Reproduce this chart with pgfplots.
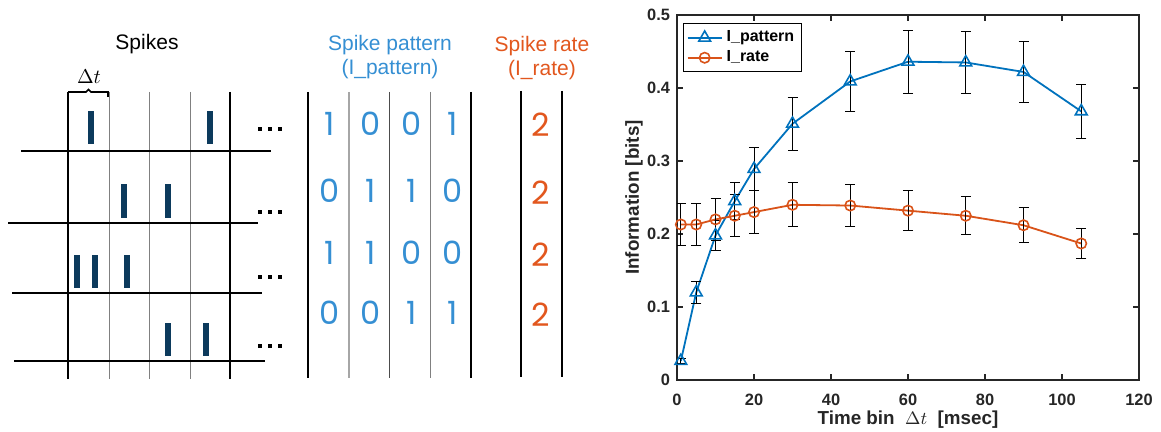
\documentclass[border=0pt]{standalone}
\usepackage{pgfplots}
\pgfplotsset{compat=1.18}
\usepackage{fontspec}
\setmainfont{Liberation Sans}
\newfontfamily\popfont{Poppins}
\definecolor{mblue}{HTML}{0072BD}
\definecolor{morange}{HTML}{D95319}
\definecolor{tblue}{HTML}{358FD3}
\definecolor{torange}{HTML}{E2571E}
\definecolor{spikecol}{HTML}{0C3A5C}
\definecolor{axgray}{HTML}{262626}

\begin{document}
\begin{tikzpicture}
\path[use as bounding box] (0,0) rectangle (580.5pt,-216pt);

% left: spike raster and the two codes, in pixel units of the figure
\begin{scope}[x=0.5pt, y=-0.5pt]
  \node[anchor=base, font=\fontsize{10.5}{12}\selectfont] at (147,50) {Spikes};
  \node[anchor=base, font=\fontsize{10}{12}\selectfont] at (89,84) {$\Delta t$};
  \draw[line width=0.8pt] (68,92)--(86,92)--(88.5,89.5)--(91,92)--(108,92)--(108,97);
  % bins
  \draw[line width=0.8pt] (68,92)--(68,379);
  \draw[gray, line width=0.5pt] (109,92)--(109,379);
  \draw[gray, line width=0.5pt] (149,92)--(149,379);
  \draw[gray, line width=0.5pt] (190,92)--(190,379);
  \draw[line width=0.8pt] (230,92)--(230,379);
  % trials
  \draw[line width=0.65pt] (21,151)--(271,151);
  \draw[line width=0.65pt] (8,223)--(258,223);
  \draw[line width=0.65pt] (12,293)--(262,293);
  \draw[line width=0.65pt] (14,361)--(265,361);
  % spikes
  \fill[spikecol] (88,111) rectangle (94,144);
  \fill[spikecol] (207,111) rectangle (213,144);
  \fill[spikecol] (121,184) rectangle (127,218);
  \fill[spikecol] (165,184) rectangle (171,218);
  \fill[spikecol] (74,255) rectangle (80,288);
  \fill[spikecol] (92,255) rectangle (98,288);
  \fill[spikecol] (124,255) rectangle (130,288);
  \fill[spikecol] (165,323) rectangle (171,356);
  \fill[spikecol] (203,323) rectangle (209,356);
  % continuation dots
  \foreach \yy in {129,212,277,346}{
    \foreach \xx in {260,270,280}{
      \fill (\xx-1.7,\yy-1.7) rectangle (\xx+1.7,\yy+1.7);
    }
  }

  % pattern code
  \node[anchor=base, text=tblue, font=\fontsize{10.5}{12}\selectfont] at (390,51) {Spike pattern};
  \node[anchor=base, text=tblue, font=\fontsize{10.5}{12}\selectfont] at (390,75) {(I\_pattern)};
  \draw[line width=0.8pt] (308,92)--(308,378);
  \draw[gray!70, line width=0.6pt] (349,92)--(349,378);
  \draw[black!70, line width=0.5pt] (389,92)--(389,378);
  \draw[gray, line width=0.5pt] (430,92)--(430,378);
  \draw[line width=0.8pt] (471,92)--(471,378);
  \begin{scope}[every node/.style={anchor=base, text=tblue, font=\popfont\fontsize{16}{16}\selectfont}]
    \node at (330,136) {1}; \node at (371,136) {0}; \node at (412,136) {0}; \node at (453,136) {1};
    \node at (330,203) {0}; \node at (371,203) {1}; \node at (412,203) {1}; \node at (453,203) {0};
    \node at (330,265) {1}; \node at (371,265) {1}; \node at (412,265) {0}; \node at (453,265) {0};
    \node at (330,325) {0}; \node at (371,325) {0}; \node at (412,325) {1}; \node at (453,325) {1};
  \end{scope}

  % rate code
  \node[anchor=base, text=torange, font=\fontsize{10.5}{12}\selectfont] at (542,52) {Spike rate};
  \node[anchor=base, text=torange, font=\fontsize{10.5}{12}\selectfont] at (542,76) {(I\_rate)};
  \draw[line width=0.8pt] (521,91)--(521,377);
  \draw[line width=0.8pt] (562,91)--(562,377);
  \begin{scope}[every node/.style={anchor=base, text=torange, font=\popfont\fontsize{16}{16}\selectfont}]
    \node at (541,137) {2}; \node at (541,205) {2}; \node at (541,267) {2}; \node at (541,327) {2};
  \end{scope}
\end{scope}

% right: information versus time bin
\begin{axis}[
    scale only axis, width=231pt, height=182.5pt,
    at={(338.5pt,-190pt)}, anchor=south west,
    xmin=0, xmax=120, ymin=0, ymax=0.5,
    xtick={0,20,...,120}, ytick={0,0.1,0.2,0.3,0.4,0.5},
    tick align=inside, major tick length=2.8pt,
    axis line style={axgray, line width=0.7pt},
    major tick style={axgray, line width=0.6pt},
    tick label style={font=\bfseries\fontsize{8.2}{10}\selectfont, text=axgray},
    /pgf/number format/assume math mode=true,
    yticklabel style={/pgf/number format/fixed, /pgf/number format/precision=1},
    xticklabel style={yshift=-3.3pt},
    xlabel={Time bin \ $\Delta t$ \ [msec]},
    ylabel={Information [bits]},
    label style={font=\bfseries\fontsize{9.4}{11}\selectfont, text=axgray},
    xlabel style={at={(axis description cs:0.5,-0.1096)}, anchor=center},
    ylabel style={at={(axis description cs:-0.093,0.5)}, anchor=center},
    legend style={at={(0.013,0.978)}, anchor=north west, draw=black,
      line width=0.7pt, font=\bfseries\fontsize{8}{9}\selectfont,
      inner sep=1.5pt, row sep=-1pt},
    legend cell align=left,
  ]
  \addplot[mblue, line width=0.9pt, mark=triangle, mark size=3.4pt,
      mark options={solid, line width=0.8pt},
      error bars/.cd, y dir=both, y explicit,
      error bar style={black, line width=0.5pt},
      error mark options={rotate=90, black, mark size=2.5pt, line width=0.5pt}]
    coordinates {
      (1,0.026) +- (0,0.004)
      (5,0.120) +- (0,0.015)
      (10,0.198) +- (0,0.020)
      (15,0.245) +- (0,0.025)
      (20,0.289) +- (0,0.029)
      (30,0.351) +- (0,0.036)
      (45,0.409) +- (0,0.041)
      (60,0.436) +- (0,0.043)
      (75,0.435) +- (0,0.043)
      (90,0.422) +- (0,0.042)
      (105,0.368) +- (0,0.037)
    };
  \addplot[morange, line width=0.9pt, mark=o, mark size=2.6pt,
      mark options={solid, line width=0.8pt},
      error bars/.cd, y dir=both, y explicit,
      error bar style={black, line width=0.5pt},
      error mark options={rotate=90, black, mark size=2.5pt, line width=0.5pt}]
    coordinates {
      (1,0.213) +- (0,0.029)
      (5,0.213) +- (0,0.029)
      (10,0.220) +- (0,0.029)
      (15,0.225) +- (0,0.029)
      (20,0.230) +- (0,0.029)
      (30,0.240) +- (0,0.030)
      (45,0.239) +- (0,0.029)
      (60,0.232) +- (0,0.027)
      (75,0.225) +- (0,0.026)
      (90,0.212) +- (0,0.024)
      (105,0.187) +- (0,0.021)
    };
  \legend{I\_pattern, I\_rate}
\end{axis}
\end{tikzpicture}
\end{document}
